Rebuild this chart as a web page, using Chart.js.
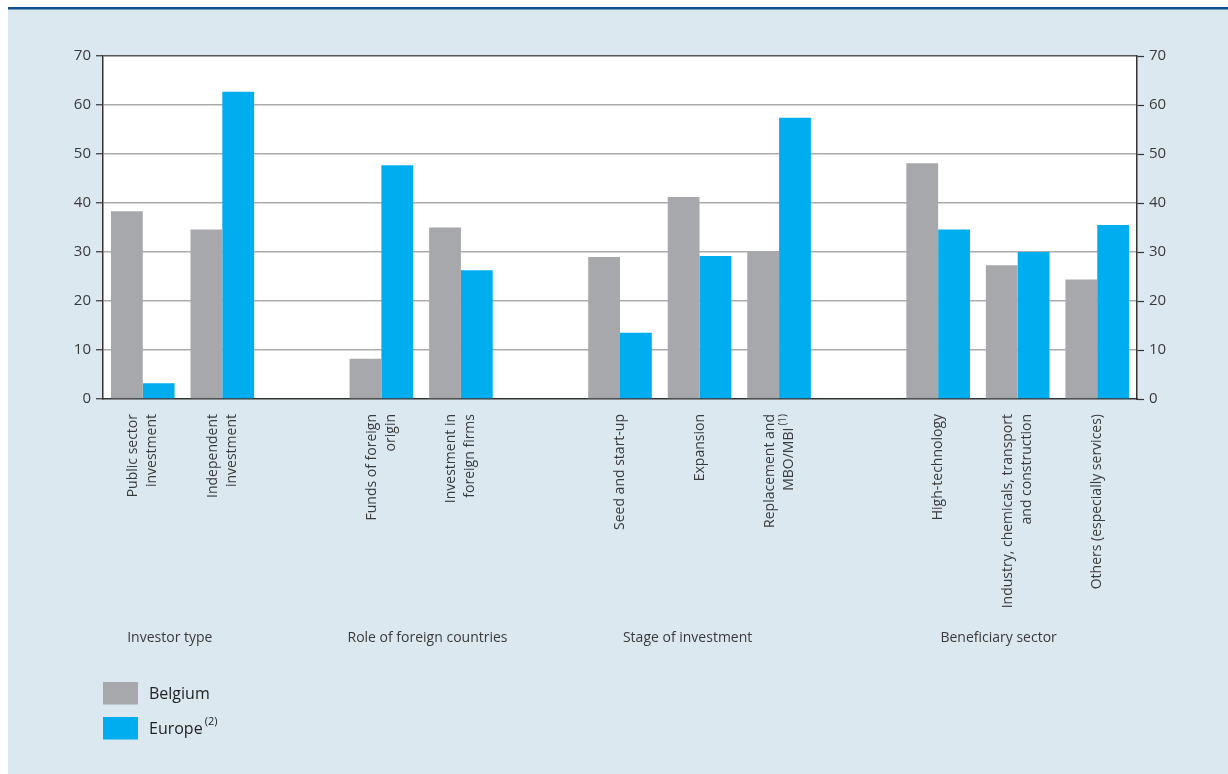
<!DOCTYPE html>
<html>
<head>
<meta charset="utf-8">
<script src="https://cdn.jsdelivr.net/npm/chart.js@4.4.1/dist/chart.umd.min.js"></script>
<style>
  html, body { margin: 0; padding: 0; background: #fff; }
  #wrap { width: 1228px; height: 774px; position: relative; }
</style>
</head>
<body>
<div id="wrap"><canvas id="chart"></canvas></div>
<script>
// categories, empty strings are the gaps between the four groups
const categories = [
  ["Public sector", "investment"],
  ["Independent", "investment"],
  "",
  ["Funds of foreign", "origin"],
  ["Investment in", "foreign firms"],
  "",
  "Seed and start-up",
  "Expansion",
  ["Replacement and", "MBO/MBI"],
  "",
  "High-technology",
  ["Industry, chemicals, transport", "and construction"],
  "Others (especially services)"
];
// footnote marks written after a category label
const categoryNotes = ["", "", "", "", "", "", "", "", "(1)", "", "", "", ""];

const belgium = [38.3, 34.6, null, 8.2, 35.0, null, 29.0, 41.2, 30.0, null, 48.1, 27.3, 24.4];
const europe  = [3.2, 62.7, null, 47.7, 26.3, null, 13.5, 29.2, 57.4, null, 34.6, 30.0, 35.5];

const seriesNames = ["Belgium", "Europe"];
const seriesNotes = ["", "(2)"];
const seriesColors = ["#a7a8ab", "#00aeef"];

const groupNames = ["Investor type", "Role of foreign countries", "Stage of investment", "Beneficiary sector"];
const groupAt = [0.34, 3.58, 6.85, 10.76];

const yMin = 0, yMax = 70, yStep = 10;

const FONT = "'Open Sans', 'DejaVu Sans', sans-serif";
const TEXT = "#3a3a3a";

const decor = {
  id: "decor",
  beforeDraw(chart) {
    const ctx = chart.ctx, a = chart.chartArea;
    ctx.save();
    ctx.fillStyle = "#dbe8f0";
    ctx.fillRect(8, 9, chart.width - 8, chart.height - 9);
    ctx.fillStyle = "#0d4c8e";
    ctx.fillRect(8, 7, chart.width - 8, 2.5);
    ctx.fillStyle = "#ffffff";
    ctx.fillRect(a.left, a.top, a.right - a.left, a.bottom - a.top);
    ctx.restore();
  },
  afterDraw(chart) {
    const ctx = chart.ctx;
    const xs = chart.scales.x;
    ctx.save();

    // rotated category labels
    ctx.fillStyle = TEXT;
    ctx.textBaseline = "middle";
    categories.forEach((lab, i) => {
      const lines = Array.isArray(lab) ? lab : [lab];
      const cx = xs.getPixelForValue(i);
      lines.forEach((ln, j) => {
        const x = cx + (j - (lines.length - 1) / 2) * 19;
        ctx.save();
        ctx.translate(x, xs.top + 15);
        ctx.rotate(-Math.PI / 2);
        ctx.textAlign = "right";
        const note = j === lines.length - 1 ? categoryNotes[i] : "";
        let end = 0;
        if (note) {
          ctx.font = "10px " + FONT;
          ctx.fillText(note, 0, -5);
          end = -ctx.measureText(note).width - 2;
        }
        ctx.font = "14px " + FONT;
        ctx.fillText(ln, end, 0);
        ctx.restore();
      });
    });

    // group labels
    ctx.font = "14px " + FONT;
    ctx.textAlign = "center";
    groupNames.forEach((g, k) => {
      ctx.fillText(g, xs.getPixelForValue(groupAt[k]), 638);
    });

    // legend
    ctx.textAlign = "left";
    chart.data.datasets.forEach((ds, k) => {
      const y = 682 + k * 35;
      ctx.fillStyle = ds.backgroundColor;
      ctx.fillRect(103, y, 35, 22.5);
      ctx.fillStyle = "#222";
      ctx.font = "16px " + FONT;
      ctx.fillText(ds.label, 149, y + 12);
      if (seriesNotes[k]) {
        const w = ctx.measureText(ds.label).width;
        ctx.font = "11px " + FONT;
        ctx.fillText(seriesNotes[k], 149 + w + 2, y + 5);
      }
    });
    ctx.restore();
  }
};

const yTickOpts = {
  stepSize: yStep,
  color: TEXT,
  font: { family: FONT, size: 15 },
  padding: 5
};

new Chart(document.getElementById("chart"), {
  type: "bar",
  data: {
    labels: categories,
    datasets: [
      { label: seriesNames[0], data: belgium, backgroundColor: seriesColors[0] },
      { label: seriesNames[1], data: europe, backgroundColor: seriesColors[1] }
    ]
  },
  options: {
    responsive: true,
    maintainAspectRatio: false,
    animation: false,
    layout: { padding: { top: 56, left: 0, right: 0, bottom: 0 } },
    datasets: {
      bar: { categoryPercentage: 0.8, barPercentage: 1.0, borderWidth: 0 }
    },
    plugins: {
      legend: { display: false },
      tooltip: { enabled: false }
    },
    scales: {
      x: {
        ticks: { display: false },
        grid: { display: false },
        border: { display: true, color: "#333", width: 1.5 },
        afterFit: (s) => { s.height = 375; }
      },
      y: {
        position: "left",
        min: yMin,
        max: yMax,
        ticks: yTickOpts,
        grid: {
          color: (c) => c.tick.value === yMax ? "#555" : (c.tick.value === yMin ? "rgba(0,0,0,0)" : "#ababab"),
          lineWidth: 1.5,
          tickLength: 7,
          tickColor: "#333",
          tickWidth: 1.2
        },
        border: { color: "#333", width: 1.5 },
        afterFit: (s) => { s.width = 103; }
      },
      y2: {
        position: "right",
        min: yMin,
        max: yMax,
        ticks: yTickOpts,
        grid: {
          drawOnChartArea: false,
          tickLength: 7,
          tickColor: "#333",
          tickWidth: 1.2
        },
        border: { color: "#333", width: 1.5 },
        afterFit: (s) => { s.width = 91; }
      }
    }
  },
  plugins: [decor]
});
</script>
</body>
</html>
